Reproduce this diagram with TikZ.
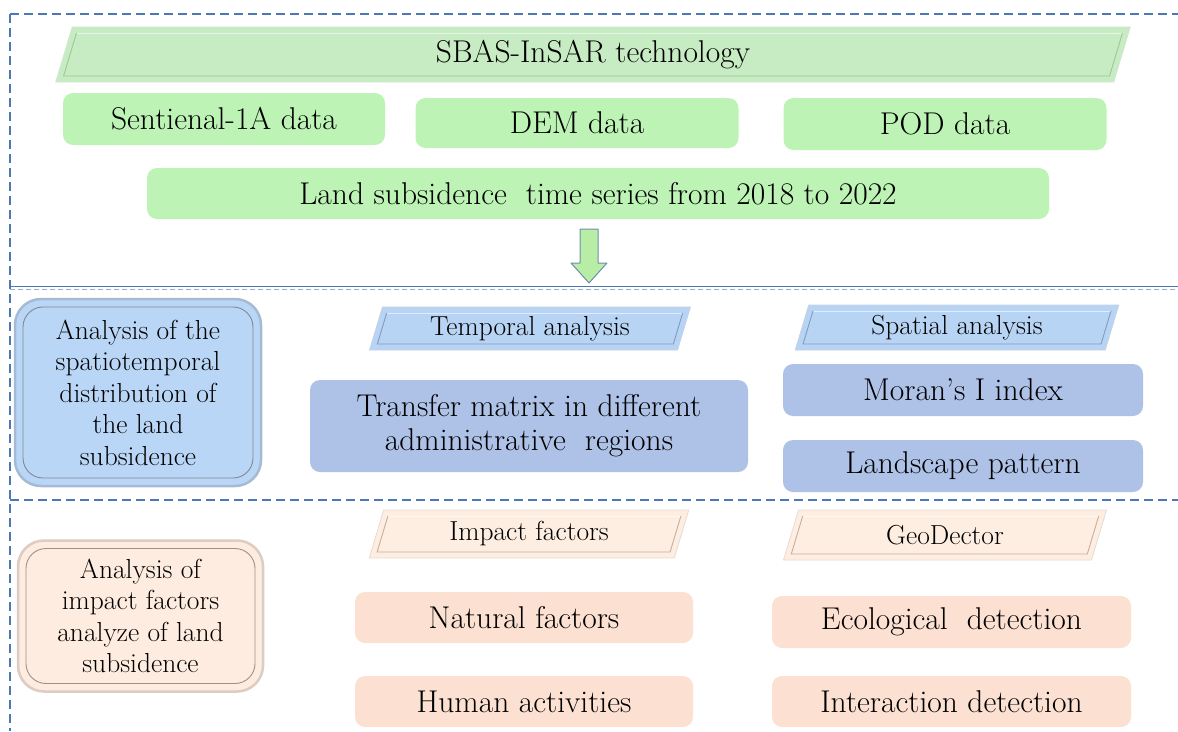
\documentclass[tikz,border=0pt]{standalone}
\usetikzlibrary{calc}

\definecolor{gfill}{HTML}{BEF3B6}
\definecolor{gpar}{HTML}{C7EBC2}
\definecolor{gparline}{HTML}{9CC894}
\definecolor{garrow}{HTML}{B8EDA6}
\definecolor{bpar}{HTML}{B8D4F4}
\definecolor{bparline}{HTML}{7F9CC2}
\definecolor{bbox}{HTML}{AEC2E7}
\definecolor{bleft}{HTML}{BAD6F6}
\definecolor{ppar}{HTML}{FEEEE2}
\definecolor{pparline}{HTML}{C9AE9C}
\definecolor{pbox}{HTML}{FCE1D2}
\definecolor{pleft}{HTML}{FDECDF}
\definecolor{dashblue}{HTML}{4C78B5}
\definecolor{arrowline}{HTML}{6F8FB0}

% slanted banner: name, cx, cy, half width, half height, fill, line, text, node style
\newcommand\slab[9]{%
  \pgfmathsetmacro\slk{0.3*#5}%
  \pgfmathsetmacro\slki{0.3*(#5-6)}%
  \path[fill=#6, draw=#7!45!white, line width=0.8pt]
    ({#2-#4+\slk},{#3-#5}) -- ({#2+#4+\slk},{#3-#5}) -- ({#2+#4-\slk},{#3+#5}) -- ({#2-#4-\slk},{#3+#5}) -- cycle;
  \path[draw=white!55!#6, line width=1pt]
    ({#2-#4+6+\slki},{#3-#5+6}) -- ({#2+#4-6+\slki},{#3-#5+6});
  \path[draw=#7, line width=0.9pt]
    ({#2+#4-6+\slki},{#3-#5+6}) -- ({#2+#4-6-\slki},{#3+#5-6}) -- ({#2-#4+6-\slki},{#3+#5-6}) -- ({#2-#4+6+\slki},{#3-#5+6});
  \node[#9] (#1) at (#2,#3) {#8};
}

% rounded panel with an inner rim: name, cx, cy, width, height, fill, rim, text
\newcommand\rimbox[8]{%
  \node[rectangle, rounded corners=26pt, fill=#6, draw=#7!35!#6, line width=2.5pt,
        minimum width=#4, minimum height=#5] (#1-bg) at (#2,#3) {};
  \node[rectangle, rounded corners=20pt, draw=#7, line width=0.9pt,
        minimum width=#4-16, minimum height=#5-16] (#1-rim) at (#2,#3) {};
  \node[align=center, font=\fontsize{27.5}{31.5}\selectfont] (#1) at (#2,#3) {#8};
}

\begin{document}
\begin{tikzpicture}[x=1pt,y=-1pt,
  frame/.style={draw=dashblue, line width=1.1pt, dash pattern=on 9pt off 5pt},
  databox/.style={rectangle, rounded corners=10pt, draw=none, inner sep=0pt,
                  font=\fontsize{31.5}{34}\selectfont, align=center},
  partext/.style={font=\fontsize{27.5}{30}\selectfont},
  bigtext/.style={font=\fontsize{31.5}{34}\selectfont}]
\useasboundingbox (0,0) rectangle (1178,731);

% section frame lines
\draw[frame] (10,14) -- (1178,14);
\draw[frame] (10,14) -- (10,731);
\draw[draw=dashblue, line width=1.1pt] (10,286.5) -- (1178,286.5);
\draw[frame, line width=0.8pt, dash pattern=on 5pt off 3pt, draw=dashblue!60!white] (10,289) -- (1178,289);
\draw[frame] (10,500) -- (1178,500);

% ---- data processing ----
\slab{sbas}{593}{54.5}{529}{27.5}{gpar}{gparline}{SBAS-InSAR technology}{bigtext}

\node[databox, fill=gfill, minimum width=322, minimum height=52] (sent) at (224,119) {Sentienal-1A data};
\node[databox, fill=gfill, minimum width=323, minimum height=50] (dem) at (577,123) {DEM data};
\node[databox, fill=gfill, minimum width=323, minimum height=52] (pod) at (945,124) {POD data};
\node[databox, fill=gfill, minimum width=902, minimum height=51] (series) at (598,193.5)
  {Land subsidence\ \ time series from 2018 to 2022};

% down arrow into the analysis part
\path[fill=garrow, draw=arrowline, line width=1pt, line join=round]
  (580,229) -- (598,229) -- (598,263) -- (607,263) -- (589,283) -- (571,263) -- (580,263) -- cycle;

% ---- spatiotemporal distribution ----
\rimbox{spatio}{138}{392.5}{246}{187}{bleft}{gray!70!bparline}
  {Analysis of the\\spatiotemporal\\distribution of\\the land\\subsidence}

\slab{temporal}{530}{328.5}{154}{21.5}{bpar}{bparline}{Temporal analysis}{partext}
\slab{spatial}{957}{327.5}{155}{22.5}{bpar}{bparline}{Spatial analysis}{partext}

\node[databox, fill=bbox, minimum width=438, minimum height=92] (transfer) at (529,426)
  {Transfer matrix in different\\administrative\ \ regions};
\node[databox, fill=bbox, minimum width=360, minimum height=52] (moran) at (963,390) {Moran's I index};
\node[databox, fill=bbox, minimum width=360, minimum height=52] (landscape) at (963,466) {Landscape pattern};

% ---- impact factors ----
\rimbox{impact}{140.5}{616}{245}{151}{pleft}{gray!60!pparline}
  {Analysis of\\impact factors\\analyze of land\\subsidence}

\slab{factors}{529}{534}{152.5}{24}{ppar}{pparline}{Impact factors}{partext}
\slab{geod}{945}{535}{154}{25}{ppar}{pparline}{GeoDector}{partext}

\node[databox, fill=pbox, minimum width=338, minimum height=51] (natural) at (524,617.5) {Natural factors};
\node[databox, fill=pbox, minimum width=338, minimum height=51] (human) at (524,701.5) {Human activities};
\node[databox, fill=pbox, minimum width=359, minimum height=52] (eco) at (951.5,622) {Ecological\ \ detection};
\node[databox, fill=pbox, minimum width=359, minimum height=51] (inter) at (951.5,701.5) {Interaction detection};
\end{tikzpicture}
\end{document}
